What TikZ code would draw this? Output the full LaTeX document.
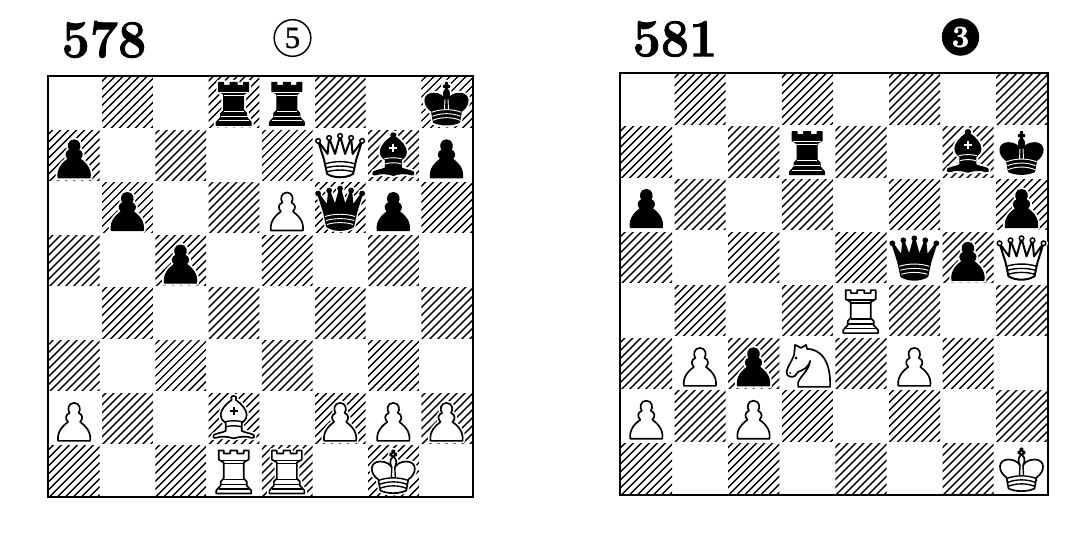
\documentclass[tikz,border=0pt]{standalone}
\usepackage{fontspec}
\newfontfamily\numfont[FakeBold=1.6]{LMRoman10-Bold}
\newfontfamily\markfont[FakeBold=1]{Liberation Serif}
\tikzset{
  x=0.75pt,y=-0.75pt,
  piecew/.style={preaction={draw=white,line width=3.6pt,line join=round},draw=black,fill=white,line width=1.25pt,line join=round},
  pieceb/.style={preaction={draw=white,line width=3.6pt,line join=round},draw=black,fill=black,line width=0.8pt,line join=round},
  ballw/.style={draw=black,fill=white,line width=1.1pt},
  ballb/.style={draw=black,fill=black,line width=0.8pt},
  detw/.style={draw=black,line width=1.05pt},
  detb/.style={draw=white,line width=0.7pt},
  hatch/.style={draw=black,line width=1.05pt},
  frame/.style={draw=black,line width=1.5pt},
  num/.style={inner sep=0pt,font=\fontsize{40}{40}\selectfont\numfont,xscale=0.94},
  pics/pawn/.style={code={
    \path[piece#1] (-16,23) -- (16,23) .. controls (17.5,13) and (10,7) .. (6,4) .. controls (9,1) and (9,-3) .. (4.5,-5) .. controls (7,-8) and (6,-15) .. (0,-15) .. controls (-6,-15) and (-7,-8) .. (-4.5,-5) .. controls (-9,-3) and (-9,1) .. (-6,4) .. controls (-10,7) and (-17.5,13) .. (-16,23) -- cycle;
  }},
  pics/rook/.style={code={
    \path[piece#1] (-15,-20) -- (-10,-20) -- (-10,-17) -- (-3.5,-17) -- (-3.5,-20) -- (3.5,-20) -- (3.5,-17) -- (10,-17) -- (10,-20) -- (15,-20) -- (15,-11) -- (10,-8) -- (10,8) -- (13,11) -- (13,15) -- (17.5,20) -- (17.5,23) -- (-17.5,23) -- (-17.5,20) -- (-13,15) -- (-13,11) -- (-10,8) -- (-10,-8) -- (-15,-11) -- cycle;
    \path[det#1] (-14,-10) -- (14,-10) (-10,-7) -- (10,-7) (-10,9) -- (10,9) (-13,14) -- (13,14) (-15,18.5) -- (15,18.5);
  }},
  pics/queen/.style={code={
    \fill[white] (-22,-14) circle (4.5) (-11,-17) circle (4.5) (0,-19) circle (4.5) (11,-17) circle (4.5) (22,-14) circle (4.5);
    \path[piece#1,line width=1.5pt] (-22,-14) -- (-16,5) -- (-13,19) .. controls (-6,23.5) and (6,23.5) .. (13,19) -- (16,5) -- (22,-14) -- (12.5,-1) -- (11,-17) -- (5,-1) -- (0,-19) -- (-5,-1) -- (-11,-17) -- (-12.5,-1) -- cycle;
    \path[ball#1] (-22,-14) circle (2.3) (-11,-17) circle (2.3) (0,-19) circle (2.3) (11,-17) circle (2.3) (22,-14) circle (2.3);
    \path[det#1] (-15,9) .. controls (-6,6) and (6,6) .. (15,9) (-14,13) .. controls (-6,10.5) and (6,10.5) .. (14,13) (-13,17) .. controls (-6,14.5) and (6,14.5) .. (13,17);
  }},
  pics/king/.style={code={
    \path[piece#1] (-13,20) .. controls (-6,23.5) and (6,23.5) .. (13,20) -- (15,9) .. controls (24,3) and (24,-9) .. (13,-9) .. controls (7,-9) and (3,-6) .. (1.5,-3) .. controls (3.5,-7) and (3.5,-11) .. (1,-13) -- (1,-15) -- (3,-15) -- (3,-17) -- (1,-17) -- (1,-20) -- (-1,-20) -- (-1,-17) -- (-3,-17) -- (-3,-15) -- (-1,-15) -- (-1,-13) .. controls (-3.5,-11) and (-3.5,-7) .. (-1.5,-3) .. controls (-3,-6) and (-7,-9) .. (-13,-9) .. controls (-24,-9) and (-24,3) .. (-15,9) -- cycle;
    \path[det#1] (-15,10) .. controls (-6,6.5) and (6,6.5) .. (15,10) (-14,14) .. controls (-6,10.5) and (6,10.5) .. (14,14) (-13.5,18) .. controls (-6,14.5) and (6,14.5) .. (13.5,18) (-1.5,-3) -- (-2,7) (1.5,-3) -- (2,7);
  }},
  pics/bishop/.style={code={
    \path[piece#1] (0,-22) .. controls (3,-22) and (3,-19) .. (2,-18) .. controls (8,-14) and (13,-8) .. (13,-3) .. controls (13,2) and (9,4) .. (8,5) -- (8,13) .. controls (12,15) and (16,15) .. (20,17) .. controls (21.5,19) and (20,21) .. (18,20) .. controls (13,18) and (6,18.5) .. (0,20.5) .. controls (-6,18.5) and (-13,18) .. (-18,20) .. controls (-20,21) and (-21.5,19) .. (-20,17) .. controls (-16,15) and (-12,15) .. (-8,13) -- (-8,5) .. controls (-9,4) and (-13,2) .. (-13,-3) .. controls (-13,-8) and (-8,-14) .. (-2,-18) .. controls (-3,-19) and (-3,-22) .. (0,-22) -- cycle;
    \path[det#1,line width=1.5pt] (-4,-7) -- (4,-7) (0,-11) -- (0,-3);
    \path[det#1] (-9,4) .. controls (-4,2.5) and (4,2.5) .. (9,4) (-8,9) .. controls (-4,7.5) and (4,7.5) .. (8,9);
  }},
  pics/knight/.style={code={
    \path[piece#1] (23,24) -- (-9,24) -- (-9,20) .. controls (-8,14) and (2,8) .. (3,-2) .. controls (1,5) and (-4,7) .. (-9,9) .. controls (-11,11) and (-11,12) .. (-12,13) .. controls (-15,15) and (-21,14) .. (-20.5,9) .. controls (-20,4) and (-15,-2) .. (-13,-8) -- (-12,-18) -- (-6,-15) -- (-1,-18) -- (0,-14) .. controls (12,-14) and (24,-4) .. (23,24) -- cycle;
    \fill[black] (-11,-5) circle (1.5) (-17,10) circle (1);
  }},
}
\newcommand\Board[4]{%
  \def\ox{#1}\def\oy{#2}\def\sw{#3}\def\sh{#4}%
  \foreach \c in {1,...,8}{\foreach \r in {1,...,8}{%
    \pgfmathtruncatemacro\odd{mod(\c+\r,2)}%
    \ifnum\odd=1
      \begin{scope}
        \clip ({\ox+(\c-1)*\sw+1.5},{\oy+(\r-1)*\sh+1.5}) rectangle ({\ox+\c*\sw-1},{\oy+\r*\sh-1});
        \foreach \o in {-64,-56,...,56}{%
          \draw[hatch] ({\ox+(\c-1)*\sw+\o},{\oy+\r*\sh+2}) -- ++(64,-64);}
      \end{scope}
    \fi}}%
  \draw[frame] ({\ox},{\oy}) rectangle ({\ox+8*\sw},{\oy+8*\sh});
}
\newcommand\PC[3]{\pic at ({\ox+(#1-.5)*\sw},{\oy+(#2-.5)*\sh}) {#3};}
\begin{document}
\begin{tikzpicture}
\useasboundingbox (0,0) rectangle (1080,539);
\fill[white] (0,0) rectangle (1080,539);
\node[num] (n578) at (104,39.5) {578};
\node[circle,draw=black,line width=1.1pt,inner sep=0pt,minimum size=27.5pt,font=\markfont\fontsize{23}{23}\selectfont] (c5) at (292.5,38) {5};
\node[num] (n581) at (675,39) {581};
\node[circle,draw=black,fill=black,text=white,line width=0.5pt,inner sep=0pt,minimum size=27.5pt,font=\numfont\fontsize{23}{23}\selectfont] (c3) at (960.5,37) {3};
\Board{47.5}{76}{53.2}{52.6}
\PC{4}{1}{rook=b}\PC{5}{1}{rook=b}\PC{8}{1}{king=b}
\PC{1}{2}{pawn=b}\PC{6}{2}{queen=w}\PC{7}{2}{bishop=b}\PC{8}{2}{pawn=b}
\PC{2}{3}{pawn=b}\PC{5}{3}{pawn=w}\PC{6}{3}{queen=b}\PC{7}{3}{pawn=b}
\PC{3}{4}{pawn=b}
\PC{1}{7}{pawn=w}\PC{4}{7}{bishop=w}\PC{6}{7}{pawn=w}\PC{7}{7}{pawn=w}\PC{8}{7}{pawn=w}
\PC{4}{8}{rook=w}\PC{5}{8}{rook=w}\PC{7}{8}{king=w}
\Board{619.5}{72.5}{53.6}{52.8}
\PC{4}{2}{rook=b}\PC{7}{2}{bishop=b}\PC{8}{2}{king=b}
\PC{1}{3}{pawn=b}\PC{8}{3}{pawn=b}
\PC{6}{4}{queen=b}\PC{7}{4}{pawn=b}\PC{8}{4}{queen=w}
\PC{5}{5}{rook=w}
\PC{2}{6}{pawn=w}\PC{3}{6}{pawn=b}\PC{4}{6}{knight=w}\PC{6}{6}{pawn=w}
\PC{1}{7}{pawn=w}\PC{3}{7}{pawn=w}
\PC{8}{8}{king=w}
\end{tikzpicture}
\end{document}
